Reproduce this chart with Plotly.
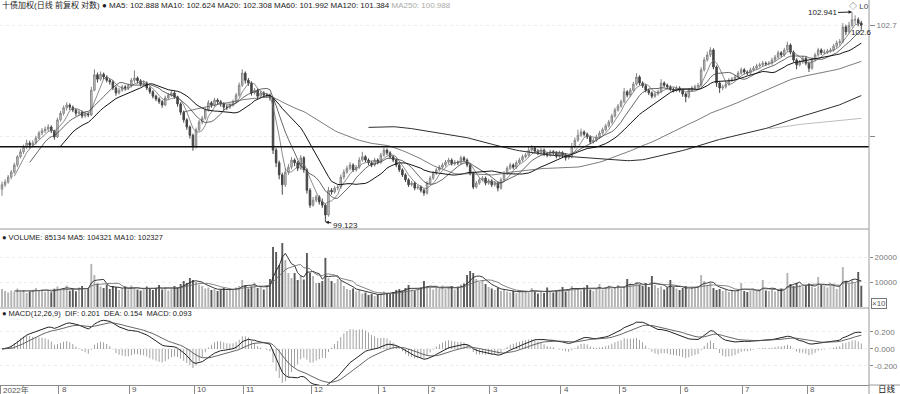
import pandas as pd
import plotly.graph_objects as go

# ---------------- data ----------------
month_days = [19, 23, 21, 16, 22, 22, 16, 20, 23, 19, 20, 20, 21, 18]
month_labels = ["2022年", "8", "9", "10", "11", "12", "1", "2", "3", "4", "5", "6", "7", "8"]

open_price = [
    99.72, 99.80, 99.85, 99.94, 100.03, 100.16, 100.31, 100.40, 100.49, 100.56,
    100.52, 100.56, 100.65, 100.74, 100.78, 100.81, 100.85, 100.78, 100.67, 100.98,
    101.10, 101.20, 101.25, 101.21, 101.16, 101.10, 101.12, 101.05, 101.09, 101.07,
    101.52, 101.80, 101.72, 101.81, 101.76, 101.70, 101.67, 101.56, 101.47, 101.52,
    101.58, 101.56, 101.60, 101.70, 101.74, 101.69, 101.63, 101.65, 101.56, 101.49,
    101.41, 101.36, 101.31, 101.25, 101.38, 101.43, 101.47, 101.40, 101.27, 101.12,
    100.98, 100.85, 100.70, 100.49, 100.80, 100.94, 101.01, 101.16, 101.29, 101.25,
    101.34, 101.31, 101.27, 101.21, 101.21, 101.25, 101.31, 101.43, 101.61, 101.83,
    101.70, 101.65, 101.47, 101.52, 101.41, 101.47, 101.43, 101.43, 101.38, 100.43,
    100.20, 99.98, 99.80, 100.03, 100.12, 100.25, 100.20, 100.10, 100.29, 100.07,
    99.70, 99.43, 99.52, 99.58, 99.49, 99.43, 99.25, 99.70, 99.67, 99.74,
    99.76, 99.94, 100.03, 100.10, 100.16, 100.07, 100.12, 100.25, 100.31, 100.25,
    100.20, 100.16, 100.25, 100.21, 100.34, 100.43, 100.38, 100.31, 100.25, 100.16,
    100.07, 99.98, 99.89, 99.80, 99.83, 99.74, 99.76, 99.70, 99.65, 99.83,
    99.92, 100.01, 100.07, 100.12, 100.16, 100.21, 100.25, 100.18, 100.21, 100.20,
    100.29, 100.25, 100.16, 100.01, 99.76, 99.83, 99.89, 99.92, 99.83, 99.87,
    99.80, 99.83, 99.74, 99.89, 100.01, 100.10, 100.16, 100.12, 100.20, 100.25,
    100.31, 100.34, 100.43, 100.47, 100.41, 100.38, 100.43, 100.36, 100.34, 100.40,
    100.38, 100.32, 100.38, 100.34, 100.29, 100.31, 100.49, 100.61, 100.70, 100.76,
    100.72, 100.67, 100.58, 100.61, 100.67, 100.74, 100.80, 100.87, 100.94, 101.05,
    101.16, 101.23, 101.31, 101.49, 101.43, 101.52, 101.63, 101.76, 101.65, 101.60,
    101.52, 101.47, 101.41, 101.45, 101.49, 101.65, 101.61, 101.58, 101.54, 101.52,
    101.56, 101.52, 101.45, 101.40, 101.52, 101.56, 101.58, 101.61, 101.89, 102.07,
    102.16, 102.25, 101.94, 101.65, 101.56, 101.58, 101.63, 101.70, 101.72, 101.76,
    101.83, 101.89, 101.85, 101.83, 101.89, 101.92, 101.96, 101.98, 102.01, 102.00,
    102.01, 102.07, 102.12, 102.20, 102.16, 102.25, 102.34, 102.21, 102.07, 101.98,
    102.03, 102.10, 102.01, 101.92, 102.07, 102.16, 102.25, 102.20, 102.21, 102.23,
    102.25, 102.32, 102.38, 102.40, 102.67, 102.58, 102.70, 102.80, 102.80, 102.74,
]

high_price = [
    99.86, 99.90, 99.98, 100.07, 100.20, 100.34, 100.45, 100.53, 100.62, 100.60,
    100.61, 100.69, 100.78, 100.83, 100.86, 100.90, 100.88, 100.80, 101.02, 101.14,
    101.24, 101.30, 101.28, 101.24, 101.19, 101.17, 101.15, 101.13, 101.12, 101.58,
    101.90, 101.84, 101.86, 101.84, 101.79, 101.73, 101.70, 101.59, 101.56, 101.62,
    101.61, 101.64, 101.74, 101.88, 101.77, 101.72, 101.70, 101.68, 101.59, 101.52,
    101.44, 101.39, 101.34, 101.42, 101.47, 101.52, 101.50, 101.42, 101.30, 101.15,
    101.01, 100.88, 100.73, 100.84, 100.98, 101.05, 101.20, 101.34, 101.32, 101.38,
    101.37, 101.34, 101.30, 101.26, 101.29, 101.35, 101.47, 101.66, 101.90, 101.86,
    101.74, 101.68, 101.56, 101.55, 101.51, 101.50, 101.47, 101.46, 101.40, 100.47,
    100.24, 100.02, 100.10, 100.18, 100.30, 100.28, 100.23, 100.34, 100.32, 100.10,
    99.74, 99.58, 99.62, 99.61, 99.55, 99.46, 99.76, 99.74, 99.78, 99.80,
    99.99, 100.08, 100.15, 100.21, 100.19, 100.16, 100.30, 100.40, 100.34, 100.28,
    100.23, 100.29, 100.28, 100.38, 100.48, 100.46, 100.41, 100.34, 100.28, 100.19,
    100.10, 100.01, 99.92, 99.87, 99.86, 99.80, 99.79, 99.73, 99.87, 99.96,
    100.05, 100.11, 100.16, 100.20, 100.25, 100.29, 100.28, 100.25, 100.24, 100.33,
    100.32, 100.28, 100.19, 100.04, 99.87, 99.93, 99.96, 99.95, 99.91, 99.90,
    99.87, 99.86, 99.93, 100.05, 100.14, 100.20, 100.19, 100.24, 100.29, 100.35,
    100.38, 100.50, 100.52, 100.50, 100.45, 100.47, 100.46, 100.40, 100.44, 100.43,
    100.41, 100.42, 100.41, 100.37, 100.35, 100.56, 100.66, 100.80, 100.82, 100.79,
    100.75, 100.70, 100.65, 100.71, 100.78, 100.84, 100.91, 100.98, 101.09, 101.20,
    101.27, 101.35, 101.56, 101.52, 101.56, 101.67, 101.83, 101.79, 101.68, 101.63,
    101.55, 101.50, 101.49, 101.53, 101.72, 101.68, 101.64, 101.61, 101.57, 101.60,
    101.59, 101.55, 101.48, 101.56, 101.60, 101.62, 101.65, 101.94, 102.12, 102.22,
    102.30, 102.28, 101.97, 101.68, 101.62, 101.67, 101.74, 101.76, 101.80, 101.87,
    101.93, 101.92, 101.88, 101.93, 101.96, 102.00, 102.02, 102.05, 102.04, 102.05,
    102.11, 102.16, 102.24, 102.23, 102.29, 102.40, 102.37, 102.24, 102.10, 102.07,
    102.14, 102.13, 102.04, 102.11, 102.20, 102.29, 102.28, 102.26, 102.27, 102.29,
    102.36, 102.42, 102.45, 102.74, 102.71, 102.76, 102.941, 102.88, 102.84, 102.78,
]

low_price = [
    99.60, 99.76, 99.82, 99.90, 100.00, 100.12, 100.28, 100.36, 100.45, 100.46,
    100.48, 100.53, 100.62, 100.70, 100.74, 100.77, 100.74, 100.62, 100.65, 100.95,
    101.06, 101.15, 101.16, 101.12, 101.05, 101.06, 101.01, 101.02, 101.03, 101.05,
    101.50, 101.66, 101.69, 101.72, 101.66, 101.62, 101.52, 101.42, 101.44, 101.49,
    101.51, 101.52, 101.57, 101.66, 101.64, 101.59, 101.60, 101.52, 101.45, 101.37,
    101.32, 101.27, 101.20, 101.23, 101.35, 101.40, 101.36, 101.22, 101.07, 100.93,
    100.80, 100.64, 100.42, 100.46, 100.77, 100.90, 100.98, 101.13, 101.20, 101.22,
    101.26, 101.22, 101.16, 101.16, 101.18, 101.22, 101.28, 101.40, 101.58, 101.64,
    101.60, 101.42, 101.44, 101.36, 101.38, 101.39, 101.38, 101.33, 100.36, 100.12,
    99.90, 99.62, 99.76, 99.98, 100.08, 100.14, 100.05, 100.07, 100.02, 99.64,
    99.38, 99.40, 99.48, 99.44, 99.38, 99.123, 99.22, 99.62, 99.64, 99.70,
    99.73, 99.90, 100.00, 100.06, 100.03, 100.04, 100.09, 100.22, 100.21, 100.16,
    100.12, 100.13, 100.17, 100.18, 100.31, 100.34, 100.27, 100.21, 100.12, 100.03,
    99.94, 99.85, 99.76, 99.77, 99.70, 99.71, 99.66, 99.60, 99.62, 99.80,
    99.89, 99.98, 100.04, 100.09, 100.13, 100.18, 100.15, 100.15, 100.16, 100.17,
    100.21, 100.12, 99.97, 99.72, 99.73, 99.80, 99.86, 99.79, 99.80, 99.76,
    99.77, 99.68, 99.71, 99.86, 99.98, 100.07, 100.08, 100.09, 100.17, 100.22,
    100.28, 100.31, 100.40, 100.37, 100.34, 100.35, 100.32, 100.30, 100.31, 100.34,
    100.28, 100.29, 100.30, 100.24, 100.26, 100.28, 100.46, 100.58, 100.67, 100.68,
    100.63, 100.54, 100.55, 100.58, 100.64, 100.71, 100.77, 100.84, 100.91, 101.02,
    101.13, 101.20, 101.28, 101.39, 101.40, 101.49, 101.60, 101.61, 101.56, 101.48,
    101.43, 101.37, 101.38, 101.42, 101.46, 101.57, 101.54, 101.50, 101.48, 101.49,
    101.48, 101.40, 101.30, 101.37, 101.49, 101.53, 101.55, 101.58, 101.86, 102.04,
    102.12, 101.90, 101.58, 101.47, 101.52, 101.55, 101.60, 101.67, 101.69, 101.73,
    101.80, 101.81, 101.79, 101.80, 101.86, 101.89, 101.93, 101.95, 101.96, 101.97,
    101.98, 102.04, 102.09, 102.12, 102.13, 102.22, 102.17, 102.03, 101.90, 101.95,
    102.00, 101.97, 101.85, 101.89, 102.04, 102.13, 102.16, 102.17, 102.18, 102.20,
    102.22, 102.29, 102.33, 102.37, 102.52, 102.55, 102.66, 102.72, 102.68, 102.62,
]

close_price = [
    99.80, 99.85, 99.94, 100.03, 100.16, 100.31, 100.40, 100.49, 100.56, 100.52,
    100.56, 100.65, 100.74, 100.78, 100.81, 100.85, 100.78, 100.67, 100.98, 101.10,
    101.20, 101.25, 101.21, 101.16, 101.10, 101.12, 101.05, 101.09, 101.07, 101.52,
    101.80, 101.72, 101.81, 101.76, 101.70, 101.67, 101.56, 101.47, 101.52, 101.58,
    101.56, 101.60, 101.70, 101.74, 101.69, 101.63, 101.65, 101.56, 101.49, 101.41,
    101.36, 101.31, 101.25, 101.38, 101.43, 101.47, 101.40, 101.27, 101.12, 100.98,
    100.85, 100.70, 100.49, 100.80, 100.94, 101.01, 101.16, 101.29, 101.25, 101.34,
    101.31, 101.27, 101.21, 101.21, 101.25, 101.31, 101.43, 101.61, 101.83, 101.70,
    101.65, 101.47, 101.52, 101.41, 101.47, 101.43, 101.43, 101.38, 100.43, 100.20,
    99.98, 99.80, 100.03, 100.12, 100.25, 100.20, 100.10, 100.29, 100.07, 99.70,
    99.43, 99.52, 99.58, 99.49, 99.43, 99.25, 99.70, 99.67, 99.74, 99.76,
    99.94, 100.03, 100.10, 100.16, 100.07, 100.12, 100.25, 100.31, 100.25, 100.20,
    100.16, 100.25, 100.21, 100.34, 100.43, 100.38, 100.31, 100.25, 100.16, 100.07,
    99.98, 99.89, 99.80, 99.83, 99.74, 99.76, 99.70, 99.65, 99.83, 99.92,
    100.01, 100.07, 100.12, 100.16, 100.21, 100.25, 100.18, 100.21, 100.20, 100.29,
    100.25, 100.16, 100.01, 99.76, 99.83, 99.89, 99.92, 99.83, 99.87, 99.80,
    99.83, 99.74, 99.89, 100.01, 100.10, 100.16, 100.12, 100.20, 100.25, 100.31,
    100.34, 100.43, 100.47, 100.41, 100.38, 100.43, 100.36, 100.34, 100.40, 100.38,
    100.32, 100.38, 100.34, 100.29, 100.31, 100.49, 100.61, 100.70, 100.76, 100.72,
    100.67, 100.58, 100.61, 100.67, 100.74, 100.80, 100.87, 100.94, 101.05, 101.16,
    101.23, 101.31, 101.49, 101.43, 101.52, 101.63, 101.76, 101.65, 101.60, 101.52,
    101.47, 101.41, 101.45, 101.49, 101.65, 101.61, 101.58, 101.54, 101.52, 101.56,
    101.52, 101.45, 101.40, 101.52, 101.56, 101.58, 101.61, 101.89, 102.07, 102.16,
    102.25, 101.94, 101.65, 101.56, 101.58, 101.63, 101.70, 101.72, 101.76, 101.83,
    101.89, 101.85, 101.83, 101.89, 101.92, 101.96, 101.98, 102.01, 102.00, 102.01,
    102.07, 102.12, 102.20, 102.16, 102.25, 102.34, 102.21, 102.07, 101.98, 102.03,
    102.10, 102.01, 101.92, 102.07, 102.16, 102.25, 102.20, 102.21, 102.23, 102.25,
    102.32, 102.38, 102.40, 102.67, 102.58, 102.70, 102.80, 102.80, 102.74, 102.70,
]

# volume, in units of x10 (as on the axis)
volume = [
    7200, 6400, 5800, 6600, 6000, 7400, 6200, 6800, 5600, 6200,
    6900, 7600, 6400, 7000, 6100, 6600, 5900, 7300, 8200, 6800,
    7400, 8600, 6500, 7100, 6300, 7800, 8400, 6900, 7600, 17200,
    12800, 9400, 8200, 7600, 9000, 7200, 8400, 7900, 6800, 7400,
    8000, 7100, 8600, 7800, 7000, 6600, 7200, 8200, 7400, 6800,
    7600, 8800, 7000, 7800, 6600, 7200, 8400, 7800, 9200, 10400,
    9600, 11600, 10800, 10000, 9000, 8400, 7400, 7800, 6800, 7200,
    6400, 7000, 7600, 6600, 7200, 6800, 7800, 8400, 10800, 8800,
    7400, 8200, 9600, 7600, 8000, 7000, 8600, 11200, 24000, 22000,
    16800, 25600, 18800, 13600, 11600, 13600, 10800, 12800, 11000, 21600,
    13600, 12400, 9600, 9600, 10400, 19600, 11600, 10400, 9600, 11200,
    10600, 8400, 7200, 6800, 7400, 6200, 6800, 5400, 5800, 4800,
    5200, 4400, 5000, 5600, 6200, 5600, 5200, 6000, 6800, 7200,
    6600, 7600, 8800, 7000, 6600, 7400, 7800, 10400, 8400, 7600,
    7000, 8000, 7400, 8600, 7200, 7800, 8400, 7000, 8200, 9000,
    9400, 12800, 14400, 13600, 11200, 10000, 10800, 9200, 8000, 7400,
    6800, 7600, 6400, 7000, 6200, 5800, 6400, 5600, 6800, 6000,
    6400, 5800, 7600, 6200, 5400, 6000, 5600, 7800, 6400, 5800,
    6600, 7000, 8000, 6200, 7200, 8400, 6800, 7400, 6600, 7800,
    8800, 7000, 6400, 7600, 9200, 7000, 7800, 8600, 7200, 8000,
    8800, 7400, 8200, 11200, 9400, 8600, 10000, 9000, 8400, 9600,
    8000, 12400, 8800, 7600, 8200, 7000, 7800, 10800, 8000, 7400,
    6800, 7600, 8400, 7200, 8000, 7600, 8400, 12800, 10400, 8800,
    9600, 7600, 6800, 7200, 6400, 7000, 6000, 6600, 6200, 7000,
    9600, 6400, 6000, 6600, 7200, 6200, 6800, 10800, 6600, 6400,
    7000, 6200, 6800, 7400, 6600, 13600, 9200, 8400, 9600, 8800,
    8000, 8600, 9400, 8200, 7600, 12000, 9000, 8400, 7800, 8800,
    9400, 7200, 8400, 16000, 10400, 9200, 10800, 9500, 14000, 8513.4,
]

ma_periods = [5, 10, 20, 60, 120, 250]
ma_values_text = ["102.888", "102.624", "102.308", "101.992", "101.384", "100.988"]
price_title = "十债加权(日线 前复权 对数)"
vol_title_values = ["85134", "104321", "102327"]
macd_params = (12, 26, 9)
macd_title_values = ["0.201", "0.154", "0.093"]
level_line = 100.49
price_tick_vals = [100.67, 102.7]
price_tick_text = ["", "102.7"]
last_label = "102.6"
vol_tick_vals = [10000, 20000]
macd_tick_vals = [-0.2, 0.0, 0.2]
macd_tick_text = ["-0.200", "0.000", "0.200"]

# ---------------- derived ----------------
N = len(close_price)
x = list(range(N))
starts = []
acc = 0
for d in month_days:
    starts.append(acc)
    acc += d

cs = pd.Series(close_price)
vs = pd.Series(volume)
ema_f = cs.ewm(span=macd_params[0], adjust=False).mean()
ema_s = cs.ewm(span=macd_params[1], adjust=False).mean()
dif = ema_f - ema_s
dea = dif.ewm(span=macd_params[2], adjust=False).mean()
hist = 2 * (dif - dea)

H, W = 394, 900
XR = 869 / W


def P(px):
    return (H - px) / H


FONT = "Liberation Sans, Noto Sans CJK SC, sans-serif"

fig = go.Figure()

fig.add_trace(go.Candlestick(
    x=x, open=open_price, high=high_price, low=low_price, close=close_price,
    xaxis="x", yaxis="y", whiskerwidth=0,
    increasing=dict(line=dict(color="#858585", width=1), fillcolor="#d2d2d2"),
    decreasing=dict(line=dict(color="#454545", width=1), fillcolor="#454545"),
    hoverinfo="skip",
))

ma_style = {5: ("#707070", 0.8), 10: ("#404040", 0.8), 20: ("#151515", 1.0),
            60: ("#5a5a5a", 0.8), 120: ("#2e2e2e", 1.0), 250: ("#bdbdbd", 1.0)}
for n in ma_periods:
    col, w = ma_style[n]
    fig.add_trace(go.Scatter(x=x, y=cs.rolling(n).mean(), mode="lines",
                             line=dict(color=col, width=w), yaxis="y", hoverinfo="skip"))

vcolors = ["#b3b3b3" if c >= o else "#5a5a5a" for o, c in zip(open_price, close_price)]
fig.add_trace(go.Bar(x=x, y=volume, yaxis="y2", marker=dict(color=vcolors, line=dict(width=0)),
                     width=0.62, hoverinfo="skip"))
fig.add_trace(go.Scatter(x=x, y=vs.rolling(5).mean(), mode="lines", yaxis="y2",
                         line=dict(color="#222", width=0.9), hoverinfo="skip"))
fig.add_trace(go.Scatter(x=x, y=vs.rolling(10).mean(), mode="lines", yaxis="y2",
                         line=dict(color="#666", width=0.8), hoverinfo="skip"))

fig.add_trace(go.Bar(x=x, y=hist, yaxis="y3", marker=dict(color="#8a8a8a", line=dict(width=0)),
                     width=0.26, hoverinfo="skip"))
fig.add_trace(go.Scatter(x=x, y=dif, mode="lines", yaxis="y3",
                         line=dict(color="#222", width=1), hoverinfo="skip"))
fig.add_trace(go.Scatter(x=x, y=dea, mode="lines", yaxis="y3",
                         line=dict(color="#555", width=0.9), hoverinfo="skip"))

tickfont = dict(family=FONT, size=8, color="#777")
grid = dict(showgrid=True, gridcolor="#ececec", griddash="dot", gridwidth=1, zeroline=False)

fig.update_layout(
    width=W, height=H, margin=dict(l=0, r=0, t=0, b=0, autoexpand=False),
    paper_bgcolor="white", plot_bgcolor="white", showlegend=False,
    barmode="overlay", hovermode=False, font=dict(family=FONT),
    xaxis=dict(domain=[0, XR], range=[-0.65, 281.5], anchor="y3",
               showgrid=False, zeroline=False, showline=True, linecolor="#8c8c8c",
               tickvals=[s - 0.6 for s in starts], ticks="outside", ticklen=9,
               tickcolor="#8c8c8c", showticklabels=False,
               rangeslider=dict(visible=False)),
    yaxis=dict(domain=[P(229), 1], range=[98.996, 103.159], side="right", anchor="x",
               tickvals=price_tick_vals, ticktext=price_tick_text, ticks="outside",
               ticklen=5, tickcolor="#888", tickfont=tickfont, **grid),
    yaxis2=dict(domain=[P(308), P(229)], range=[-400, 31200], side="right", anchor="x",
                tickvals=vol_tick_vals, ticktext=[str(v) for v in vol_tick_vals],
                ticks="outside", ticklen=3, tickcolor="#888", tickfont=tickfont, **grid),
    yaxis3=dict(domain=[P(385), P(308)], range=[-0.4235, 0.482], side="right", anchor="x",
                tickvals=macd_tick_vals, ticktext=macd_tick_text,
                ticks="outside", ticklen=3, tickcolor="#888", tickfont=tickfont, **grid),
)

shapes = [
    dict(type="line", xref="paper", yref="y", x0=0, x1=XR, y0=level_line, y1=level_line,
         line=dict(color="#111", width=1.5)),
    dict(type="line", xref="paper", yref="paper", x0=0, x1=XR, y0=P(229), y1=P(229),
         line=dict(color="#9a9a9a", width=1)),
    dict(type="line", xref="paper", yref="paper", x0=0, x1=XR, y0=P(308), y1=P(308),
         line=dict(color="#9a9a9a", width=1)),
    dict(type="line", xref="paper", yref="paper", x0=XR, x1=1, y0=P(385), y1=P(385),
         line=dict(color="#9a9a9a", width=1)),
    dict(type="line", xref="paper", yref="paper", x0=XR, x1=XR, y0=0, y1=1,
         line=dict(color="#9a9a9a", width=1)),
]
fig.update_layout(shapes=shapes)

ann = []
title_txt = (price_title + " ● " + " ".join(
    (f"MA{n}: {v}" if n != 250 else f"<span style='color:#aaa'>MA{n}: {v}</span>")
    for n, v in zip(ma_periods, ma_values_text)))
ann.append(dict(xref="paper", yref="paper", x=0.0, y=P(5), xanchor="left", yanchor="middle",
                text=title_txt, showarrow=False, font=dict(family=FONT, size=8, color="#222")))
ann.append(dict(xref="paper", yref="paper", x=0.0, y=P(237), xanchor="left", yanchor="middle",
                text=f"● VOLUME: {vol_title_values[0]} MA5: {vol_title_values[1]} MA10: {vol_title_values[2]}",
                showarrow=False, font=dict(family=FONT, size=7.5, color="#222")))
ann.append(dict(xref="paper", yref="paper", x=0.0, y=P(313), xanchor="left", yanchor="middle",
                text=f"● MACD({macd_params[0]},{macd_params[1]},{macd_params[2]})  DIF: {macd_title_values[0]}  "
                     f"DEA: {macd_title_values[1]}  MACD: {macd_title_values[2]}",
                showarrow=False, font=dict(family=FONT, size=7.5, color="#222")))

for s, lab in zip(starts, month_labels):
    ann.append(dict(xref="x", yref="paper", x=s - 0.3, y=P(389.5), xanchor="left", yanchor="middle",
                    text=lab, showarrow=False, font=dict(family=FONT, size=8, color="#555")))

hi = max(high_price)
lo = min(low_price)
ihi = high_price.index(hi)
ilo = low_price.index(lo)
ann.append(dict(xref="x", yref="y", x=ihi, y=hi, text=f"{hi:.3f}", showarrow=True,
                ax=-30, ay=1, arrowhead=2, arrowsize=0.7, arrowwidth=1, arrowcolor="#222",
                font=dict(family=FONT, size=8, color="#222")))
ann.append(dict(xref="x", yref="y", x=ilo, y=lo, text=f"{lo:.3f}", showarrow=True,
                ax=20, ay=3, arrowhead=2, arrowsize=0.7, arrowwidth=1, arrowcolor="#222",
                font=dict(family=FONT, size=8, color="#222")))
ann.append(dict(xref="paper", yref="paper", x=861 / W, y=P(33), xanchor="center", yanchor="middle",
                text=last_label, showarrow=False, font=dict(family=FONT, size=8, color="#222")))
ann.append(dict(xref="paper", yref="paper", x=859 / W, y=P(6), xanchor="center", yanchor="middle",
                text="◇ L0", showarrow=False, font=dict(family=FONT, size=8, color="#444")))
ann.append(dict(xref="paper", yref="paper", x=871 / W, y=P(303), xanchor="left", yanchor="middle",
                text="×10", showarrow=False, bordercolor="#777", borderwidth=1, borderpad=0,
                font=dict(family=FONT, size=8, color="#555")))
ann.append(dict(xref="paper", yref="paper", x=876 / W, y=P(388.5), xanchor="left", yanchor="middle",
                text="日线", showarrow=False, font=dict(family=FONT, size=8.5, color="#111")))
fig.update_layout(annotations=ann)

fig.write_html("out.html", config={"displayModeBar": False, "staticPlot": True},
               post_script="document.body.style.margin='0';document.body.style.overflow='hidden';")
